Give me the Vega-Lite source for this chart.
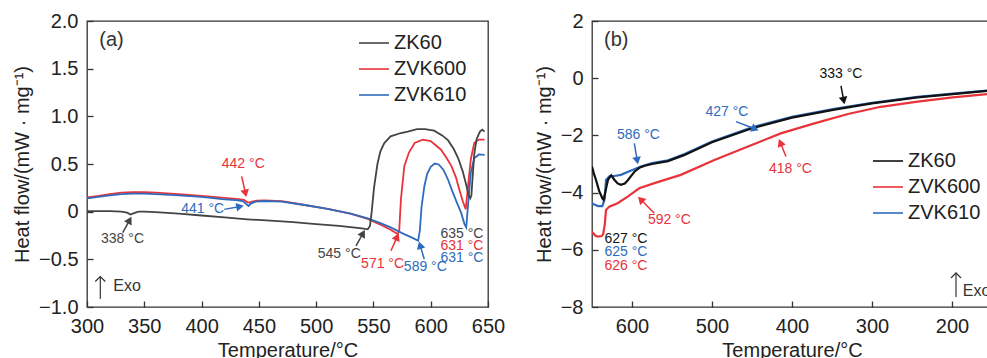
{
  "$schema": "https://vega.github.io/schema/vega-lite/v6.json",
  "background": "white",
  "padding": {"left": 11, "top": 10, "right": 0, "bottom": 0},
  "bounds": "flush",
  "spacing": 104,
  "config": {
    "font": "Liberation Sans",
    "view": {"stroke": "#333333", "strokeWidth": 1.3},
    "axis": {"domain": false, "grid": false, "tickColor": "#333333", "tickSize": -6, "tickWidth": 1.3, "labelFontSize": 20, "labelColor": "#222222", "titleFontSize": 20, "titleFontWeight": "normal", "titleColor": "#222222", "labelFont": "Liberation Sans", "titleFont": "Liberation Sans", "labelFlush": false},
    "legend": {"orient": "none", "symbolType": "stroke", "symbolStrokeWidth": 1.6, "symbolSize": 900, "labelFontSize": 20, "labelColor": "#222222", "labelFont": "Liberation Sans", "padding": 0, "rowPadding": -1, "labelOffset": 4, "title": null}
  },
  "resolve": {"scale": {"color": "independent"}, "legend": {"color": "independent"}},
  "hconcat": [
    {
      "width": 401,
      "height": 286,
      "layer": [
        {
          "data": {"values": [
            {"series":"ZVK600","T":300,"v":0.15},{"series":"ZVK600","T":310,"v":0.165},{"series":"ZVK600","T":320,"v":0.185},{"series":"ZVK600","T":330,"v":0.2},{"series":"ZVK600","T":340,"v":0.205},{"series":"ZVK600","T":350,"v":0.205},{"series":"ZVK600","T":360,"v":0.2},{"series":"ZVK600","T":380,"v":0.185},{"series":"ZVK600","T":400,"v":0.165},{"series":"ZVK600","T":420,"v":0.145},{"series":"ZVK600","T":430,"v":0.135},{"series":"ZVK600","T":437,"v":0.125},{"series":"ZVK600","T":440,"v":0.1},{"series":"ZVK600","T":442,"v":0.095},{"series":"ZVK600","T":444,"v":0.105},{"series":"ZVK600","T":448,"v":0.115},{"series":"ZVK600","T":455,"v":0.118},{"series":"ZVK600","T":470,"v":0.11},{"series":"ZVK600","T":490,"v":0.07},{"series":"ZVK600","T":510,"v":0.03},{"series":"ZVK600","T":530,"v":-0.02},{"series":"ZVK600","T":545,"v":-0.075},{"series":"ZVK600","T":555,"v":-0.13},{"series":"ZVK600","T":565,"v":-0.19},{"series":"ZVK600","T":571,"v":-0.235},{"series":"ZVK600","T":572.5,"v":-0.2},{"series":"ZVK600","T":574,"v":0.13},{"series":"ZVK600","T":577,"v":0.48},{"series":"ZVK600","T":581,"v":0.62},{"series":"ZVK600","T":586,"v":0.72},{"series":"ZVK600","T":593,"v":0.756},{"series":"ZVK600","T":600,"v":0.74},{"series":"ZVK600","T":609,"v":0.65},{"series":"ZVK600","T":614,"v":0.56},{"series":"ZVK600","T":618,"v":0.48},{"series":"ZVK600","T":622,"v":0.36},{"series":"ZVK600","T":625,"v":0.23},{"series":"ZVK600","T":628,"v":0.11},{"series":"ZVK600","T":630.5,"v":0.025},{"series":"ZVK600","T":632,"v":0.2},{"series":"ZVK600","T":635,"v":0.55},{"series":"ZVK600","T":638,"v":0.72},{"series":"ZVK600","T":642,"v":0.756},{"series":"ZVK600","T":647,"v":0.756},
            {"series":"ZVK610","T":300,"v":0.14},{"series":"ZVK610","T":310,"v":0.155},{"series":"ZVK610","T":320,"v":0.17},{"series":"ZVK610","T":330,"v":0.185},{"series":"ZVK610","T":340,"v":0.19},{"series":"ZVK610","T":350,"v":0.19},{"series":"ZVK610","T":360,"v":0.185},{"series":"ZVK610","T":380,"v":0.17},{"series":"ZVK610","T":400,"v":0.155},{"series":"ZVK610","T":420,"v":0.13},{"series":"ZVK610","T":430,"v":0.12},{"series":"ZVK610","T":436,"v":0.11},{"series":"ZVK610","T":439,"v":0.08},{"series":"ZVK610","T":441,"v":0.06},{"series":"ZVK610","T":443,"v":0.085},{"series":"ZVK610","T":447,"v":0.105},{"series":"ZVK610","T":455,"v":0.112},{"series":"ZVK610","T":470,"v":0.105},{"series":"ZVK610","T":490,"v":0.07},{"series":"ZVK610","T":510,"v":0.03},{"series":"ZVK610","T":530,"v":-0.02},{"series":"ZVK610","T":545,"v":-0.07},{"series":"ZVK610","T":555,"v":-0.115},{"series":"ZVK610","T":565,"v":-0.165},{"series":"ZVK610","T":575,"v":-0.225},{"series":"ZVK610","T":585,"v":-0.28},{"series":"ZVK610","T":589,"v":-0.305},{"series":"ZVK610","T":590.5,"v":-0.2},{"series":"ZVK610","T":592,"v":0.05},{"series":"ZVK610","T":594.5,"v":0.27},{"series":"ZVK610","T":597,"v":0.4},{"series":"ZVK610","T":600,"v":0.47},{"series":"ZVK610","T":603.5,"v":0.505},{"series":"ZVK610","T":607,"v":0.495},{"series":"ZVK610","T":611,"v":0.44},{"series":"ZVK610","T":615,"v":0.34},{"series":"ZVK610","T":619,"v":0.21},{"series":"ZVK610","T":623,"v":0.09},{"series":"ZVK610","T":626.5,"v":-0.01},{"series":"ZVK610","T":629.5,"v":-0.13},{"series":"ZVK610","T":631,"v":-0.165},{"series":"ZVK610","T":632.5,"v":0.06},{"series":"ZVK610","T":635,"v":0.41},{"series":"ZVK610","T":638,"v":0.56},{"series":"ZVK610","T":642,"v":0.6},{"series":"ZVK610","T":647,"v":0.595},
            {"series":"ZK60","T":300,"v":0.005},{"series":"ZK60","T":310,"v":0.005},{"series":"ZK60","T":320,"v":0.005},{"series":"ZK60","T":330,"v":0.0},{"series":"ZK60","T":335,"v":-0.01},{"series":"ZK60","T":338,"v":-0.03},{"series":"ZK60","T":341,"v":-0.015},{"series":"ZK60","T":345,"v":0.0},{"series":"ZK60","T":350,"v":0.0},{"series":"ZK60","T":360,"v":-0.005},{"series":"ZK60","T":380,"v":-0.02},{"series":"ZK60","T":400,"v":-0.04},{"series":"ZK60","T":420,"v":-0.06},{"series":"ZK60","T":440,"v":-0.08},{"series":"ZK60","T":460,"v":-0.095},{"series":"ZK60","T":480,"v":-0.11},{"series":"ZK60","T":500,"v":-0.13},{"series":"ZK60","T":520,"v":-0.15},{"series":"ZK60","T":540,"v":-0.175},{"series":"ZK60","T":545,"v":-0.185},{"series":"ZK60","T":547,"v":-0.15},{"series":"ZK60","T":548.5,"v":0.0},{"series":"ZK60","T":550.5,"v":0.25},{"series":"ZK60","T":553.5,"v":0.5},{"series":"ZK60","T":556,"v":0.63},{"series":"ZK60","T":559.5,"v":0.72},{"series":"ZK60","T":565,"v":0.79},{"series":"ZK60","T":574,"v":0.825},{"series":"ZK60","T":580,"v":0.84},{"series":"ZK60","T":588,"v":0.865},{"series":"ZK60","T":595,"v":0.865},{"series":"ZK60","T":603,"v":0.85},{"series":"ZK60","T":610,"v":0.8},{"series":"ZK60","T":615,"v":0.75},{"series":"ZK60","T":620,"v":0.66},{"series":"ZK60","T":624,"v":0.56},{"series":"ZK60","T":628,"v":0.42},{"series":"ZK60","T":631,"v":0.28},{"series":"ZK60","T":633,"v":0.18},{"series":"ZK60","T":634.5,"v":0.14},{"series":"ZK60","T":635.5,"v":0.17},{"series":"ZK60","T":636.5,"v":0.35},{"series":"ZK60","T":638,"v":0.6},{"series":"ZK60","T":640,"v":0.76},{"series":"ZK60","T":643,"v":0.84},{"series":"ZK60","T":645,"v":0.86},{"series":"ZK60","T":647,"v":0.84}
          ]},
          "mark": {"type": "line", "strokeWidth": 1.8, "clip": true},
          "encoding": {
            "x": {"field": "T", "type": "quantitative", "scale": {"domain": [300, 650], "nice": false, "zero": false}, "axis": {"values": [300, 350, 400, 450, 500, 550, 600, 650], "title": "Temperature/°C", "labelPadding": 15, "titlePadding": 4}},
            "y": {"field": "v", "type": "quantitative", "scale": {"domain": [-1, 2], "nice": false, "zero": false}, "axis": {"values": [-1, -0.5, 0, 0.5, 1, 1.5, 2], "labelExpr": "datum.value === 0 ? '0' : format(datum.value, '.1f')", "title": "Heat flow/(mW · mg⁻¹)", "labelPadding": 15, "titlePadding": 6}},
            "color": {"field": "series", "type": "nominal", "scale": {"domain": ["ZK60", "ZVK600", "ZVK610"], "range": ["#444444", "#e8333a", "#2f6bbd"]}, "legend": {"legendX": 271, "legendY": 6, "symbolStrokeWidth": 1.6, "encode": {"symbols": {"update": {"strokeWidth": {"value": 1.6}}}}}},
            "order": {"field": "T", "type": "quantitative"}
          }
        },
        {
          "data": {"values": [
            {"series":"ZK60","x":331.2,"y":-0.22,"x2":336.7,"y2":-0.099,"ang":29},
            {"series":"ZVK600","x":435,"y":0.37,"x2":438.1,"y2":0.204,"ang":168},
            {"series":"ZVK610","x":419.8,"y":0.024,"x2":432.5,"y2":0.052,"ang":80},
            {"series":"ZK60","x":534.8,"y":-0.36,"x2":540.4,"y2":-0.239,"ang":29},
            {"series":"ZVK600","x":565.3,"y":-0.41,"x2":570.3,"y2":-0.275,"ang":24},
            {"series":"ZVK610","x":594.4,"y":-0.5,"x2":591.0,"y2":-0.363,"ang":-17}
          ]},
          "layer": [
            {
              "mark": {"type": "rule", "strokeWidth": 1.5},
              "encoding": {
                "x": {"field": "x", "type": "quantitative"},
                "y": {"field": "y", "type": "quantitative"},
                "x2": {"field": "x2"},
                "y2": {"field": "y2"},
                "color": {"field": "series", "type": "nominal", "legend": null}
              }
            },
            {
              "mark": {"type": "point", "shape": "triangle", "filled": true, "size": 75, "opacity": 1},
              "encoding": {
                "x": {"field": "x2", "type": "quantitative"},
                "y": {"field": "y2", "type": "quantitative"},
                "angle": {"field": "ang", "type": "quantitative", "scale": null},
                "color": {"field": "series", "type": "nominal", "legend": null}
              }
            }
          ]
        },
        {
          "data": {"values": [
            {"series":"ZK60","x":331,"y":-0.29,"label":"338 °C"},
            {"series":"ZVK600","x":436.4,"y":0.495,"label":"442 °C"},
            {"series":"ZVK610","x":401,"y":0.03,"label":"441 °C"},
            {"series":"ZK60","x":520.2,"y":-0.44,"label":"545 °C"},
            {"series":"ZVK600","x":558,"y":-0.545,"label":"571 °C"},
            {"series":"ZVK610","x":595.3,"y":-0.585,"label":"589 °C"},
            {"series":"ZK60","x":627.3,"y":-0.23,"label":"635 °C"},
            {"series":"ZVK600","x":627.3,"y":-0.36,"label":"631 °C"},
            {"series":"ZVK610","x":627.3,"y":-0.49,"label":"631 °C"}
          ]},
          "mark": {"type": "text", "fontSize": 14, "align": "center", "baseline": "middle"},
          "encoding": {
            "x": {"field": "x", "type": "quantitative"},
            "y": {"field": "y", "type": "quantitative"},
            "text": {"field": "label"},
            "color": {"field": "series", "type": "nominal", "legend": null}
          }
        },
        {
          "data": {"values": [{"x": 311.6, "y": -0.916, "y2": -0.68}]},
          "layer": [
            {"mark": {"type": "rule", "strokeWidth": 1.2, "color": "#333333"}, "encoding": {"x": {"field": "x", "type": "quantitative"}, "y": {"field": "y", "type": "quantitative"}, "y2": {"field": "y2"}}},
            {"mark": {"type": "point", "shape": "M-1,1L0,0L1,1", "filled": false, "size": 100, "strokeWidth": 1.2, "color": "#333333", "opacity": 1}, "encoding": {"x": {"field": "x", "type": "quantitative"}, "y": {"field": "y2", "type": "quantitative"}}}
          ]
        },
        {
          "data": {"values": [{"x": 321.4, "y": 1.8, "label": "(a)", "size": "big"}, {"x": 334.9, "y": -0.78, "label": "Exo", "size": "small"}]},
          "mark": {"type": "text", "align": "center", "baseline": "middle", "color": "#333333"},
          "encoding": {
            "x": {"field": "x", "type": "quantitative"},
            "y": {"field": "y", "type": "quantitative"},
            "text": {"field": "label"},
            "size": {"field": "size", "type": "nominal", "scale": {"domain": ["big", "small"], "range": [20, 16]}, "legend": null}
          }
        }
      ]
    },
    {
      "width": 400,
      "height": 286,
      "layer": [
        {
          "data": {"values": [
            {"series":"ZVK600","T":650,"v":-5.37},{"series":"ZVK600","T":646,"v":-5.5},{"series":"ZVK600","T":642.9,"v":-5.54},{"series":"ZVK600","T":638,"v":-5.52},{"series":"ZVK600","T":636,"v":-5.45},{"series":"ZVK600","T":634,"v":-5.1},{"series":"ZVK600","T":632.5,"v":-4.61},{"series":"ZVK600","T":628.4,"v":-4.49},{"series":"ZVK600","T":618,"v":-4.37},{"series":"ZVK600","T":605.4,"v":-4.14},{"series":"ZVK600","T":591,"v":-3.85},{"series":"ZVK600","T":572,"v":-3.67},{"series":"ZVK600","T":539,"v":-3.38},{"series":"ZVK600","T":497,"v":-2.86},{"series":"ZVK600","T":455,"v":-2.39},{"series":"ZVK600","T":414,"v":-1.93},{"series":"ZVK600","T":372,"v":-1.58},{"series":"ZVK600","T":330,"v":-1.25},{"series":"ZVK600","T":289,"v":-1.0},{"series":"ZVK600","T":243,"v":-0.82},{"series":"ZVK600","T":199,"v":-0.67},{"series":"ZVK600","T":150,"v":-0.54},
            {"series":"ZVK610","T":650,"v":-4.37},{"series":"ZVK610","T":647,"v":-4.42},{"series":"ZVK610","T":642.5,"v":-4.47},{"series":"ZVK610","T":637,"v":-4.47},{"series":"ZVK610","T":634,"v":-4.2},{"series":"ZVK610","T":632.5,"v":-3.56},{"series":"ZVK610","T":628,"v":-3.42},{"series":"ZVK610","T":622,"v":-3.42},{"series":"ZVK610","T":614,"v":-3.38},{"series":"ZVK610","T":601,"v":-3.23},{"series":"ZVK610","T":589,"v":-3.09},{"series":"ZVK610","T":580,"v":-3.01},{"series":"ZVK610","T":575,"v":-2.97},{"series":"ZVK610","T":555,"v":-2.87},{"series":"ZVK610","T":535,"v":-2.66},{"series":"ZVK610","T":500,"v":-2.21},{"series":"ZVK610","T":450,"v":-1.72},{"series":"ZVK610","T":400,"v":-1.35},{"series":"ZVK610","T":347,"v":-1.07},{"series":"ZVK610","T":300,"v":-0.86},{"series":"ZVK610","T":243,"v":-0.65},{"series":"ZVK610","T":199,"v":-0.54},{"series":"ZVK610","T":150,"v":-0.42},
            {"series":"ZK60","T":650,"v":-3.09},{"series":"ZK60","T":648,"v":-3.3},{"series":"ZK60","T":645,"v":-3.56},{"series":"ZK60","T":641,"v":-3.95},{"series":"ZK60","T":637,"v":-4.2},{"series":"ZK60","T":635.5,"v":-4.25},{"series":"ZK60","T":633.5,"v":-4.0},{"series":"ZK60","T":632,"v":-3.8},{"series":"ZK60","T":630,"v":-3.55},{"series":"ZK60","T":626,"v":-3.4},{"series":"ZK60","T":622,"v":-3.55},{"series":"ZK60","T":618,"v":-3.68},{"series":"ZK60","T":614,"v":-3.73},{"series":"ZK60","T":609,"v":-3.68},{"series":"ZK60","T":605,"v":-3.56},{"series":"ZK60","T":600,"v":-3.38},{"series":"ZK60","T":597,"v":-3.27},{"series":"ZK60","T":590,"v":-3.12},{"series":"ZK60","T":584,"v":-3.06},{"series":"ZK60","T":575,"v":-3.0},{"series":"ZK60","T":555,"v":-2.9},{"series":"ZK60","T":535,"v":-2.69},{"series":"ZK60","T":500,"v":-2.24},{"series":"ZK60","T":450,"v":-1.75},{"series":"ZK60","T":400,"v":-1.38},{"series":"ZK60","T":347,"v":-1.1},{"series":"ZK60","T":300,"v":-0.88},{"series":"ZK60","T":243,"v":-0.67},{"series":"ZK60","T":199,"v":-0.56},{"series":"ZK60","T":150,"v":-0.43}
          ]},
          "mark": {"type": "line", "strokeWidth": 2.2, "clip": true},
          "encoding": {
            "x": {"field": "T", "type": "quantitative", "scale": {"domain": [150, 650], "reverse": true, "nice": false, "zero": false}, "axis": {"values": [600, 500, 400, 300, 200], "title": "Temperature/°C", "labelPadding": 15, "titlePadding": 4}},
            "y": {"field": "v", "type": "quantitative", "scale": {"domain": [-8, 2], "nice": false, "zero": false}, "axis": {"values": [-8, -6, -4, -2, 0, 2], "title": "Heat flow/(mW · mg⁻¹)", "labelPadding": 15, "titlePadding": 6}},
            "color": {"field": "series", "type": "nominal", "scale": {"domain": ["ZK60", "ZVK600", "ZVK610"], "range": ["#111111", "#e8333a", "#2f6bbd"]}, "legend": {"legendX": 280, "legendY": 124, "symbolStrokeWidth": 1.6, "encode": {"symbols": {"update": {"strokeWidth": {"value": 1.6}}}}}},
            "order": {"field": "T", "type": "quantitative", "sort": "descending"}
          }
        },
        {
          "data": {"values": [
            {"series":"ZK60","x":338.75,"y":-0.27,"x2":335.6,"y2":-0.74,"ang":169},
            {"series":"ZVK610","x":470,"y":-1.52,"x2":447.5,"y2":-1.76,"ang":111},
            {"series":"ZVK610","x":597.1,"y":-2.28,"x2":593.75,"y2":-2.84,"ang":170},
            {"series":"ZVK600","x":407.5,"y":-2.74,"x2":414.0,"y2":-2.29,"ang":-22},
            {"series":"ZVK600","x":572.1,"y":-4.72,"x2":588.1,"y2":-4.27,"ang":-44}
          ]},
          "layer": [
            {
              "mark": {"type": "rule", "strokeWidth": 1.5},
              "encoding": {
                "x": {"field": "x", "type": "quantitative"},
                "y": {"field": "y", "type": "quantitative"},
                "x2": {"field": "x2"},
                "y2": {"field": "y2"},
                "color": {"field": "series", "type": "nominal", "legend": null}
              }
            },
            {
              "mark": {"type": "point", "shape": "triangle", "filled": true, "size": 75, "opacity": 1},
              "encoding": {
                "x": {"field": "x2", "type": "quantitative"},
                "y": {"field": "y2", "type": "quantitative"},
                "angle": {"field": "ang", "type": "quantitative", "scale": null},
                "color": {"field": "series", "type": "nominal", "legend": null}
              }
            }
          ]
        },
        {
          "data": {"values": [
            {"series":"ZK60","x":338.75,"y":0.15,"label":"333 °C"},
            {"series":"ZVK610","x":481.25,"y":-1.19,"label":"427 °C"},
            {"series":"ZVK610","x":592,"y":-1.99,"label":"586 °C"},
            {"series":"ZVK600","x":402,"y":-3.19,"label":"418 °C"},
            {"series":"ZVK600","x":553.3,"y":-4.96,"label":"592 °C"},
            {"series":"ZK60","x":607.5,"y":-5.63,"label":"627 °C"},
            {"series":"ZVK610","x":607.5,"y":-6.09,"label":"625 °C"},
            {"series":"ZVK600","x":607.5,"y":-6.57,"label":"626 °C"}
          ]},
          "mark": {"type": "text", "fontSize": 14, "align": "center", "baseline": "middle"},
          "encoding": {
            "x": {"field": "x", "type": "quantitative"},
            "y": {"field": "y", "type": "quantitative"},
            "text": {"field": "label"},
            "color": {"field": "series", "type": "nominal", "legend": null}
          }
        },
        {
          "data": {"values": [{"x": 195, "y": -7.65, "y2": -6.81}]},
          "layer": [
            {"mark": {"type": "rule", "strokeWidth": 1.2, "color": "#333333"}, "encoding": {"x": {"field": "x", "type": "quantitative"}, "y": {"field": "y", "type": "quantitative"}, "y2": {"field": "y2"}}},
            {"mark": {"type": "point", "shape": "M-1,1L0,0L1,1", "filled": false, "size": 100, "strokeWidth": 1.2, "color": "#333333", "opacity": 1}, "encoding": {"x": {"field": "x", "type": "quantitative"}, "y": {"field": "y2", "type": "quantitative"}}}
          ]
        },
        {
          "data": {"values": [{"x": 619.75, "y": 1.34, "label": "(b)"}]},
          "mark": {"type": "text", "align": "center", "baseline": "middle", "color": "#333333", "fontSize": 20},
          "encoding": {
            "x": {"field": "x", "type": "quantitative"},
            "y": {"field": "y", "type": "quantitative"},
            "text": {"field": "label"}
          }
        },
        {
          "data": {"values": [{"x": 186.6, "y": -7.43, "label": "Exo"}]},
          "mark": {"type": "text", "align": "left", "baseline": "middle", "color": "#333333", "fontSize": 16},
          "encoding": {
            "x": {"field": "x", "type": "quantitative"},
            "y": {"field": "y", "type": "quantitative"},
            "text": {"field": "label"}
          }
        }
      ]
    }
  ]
}
